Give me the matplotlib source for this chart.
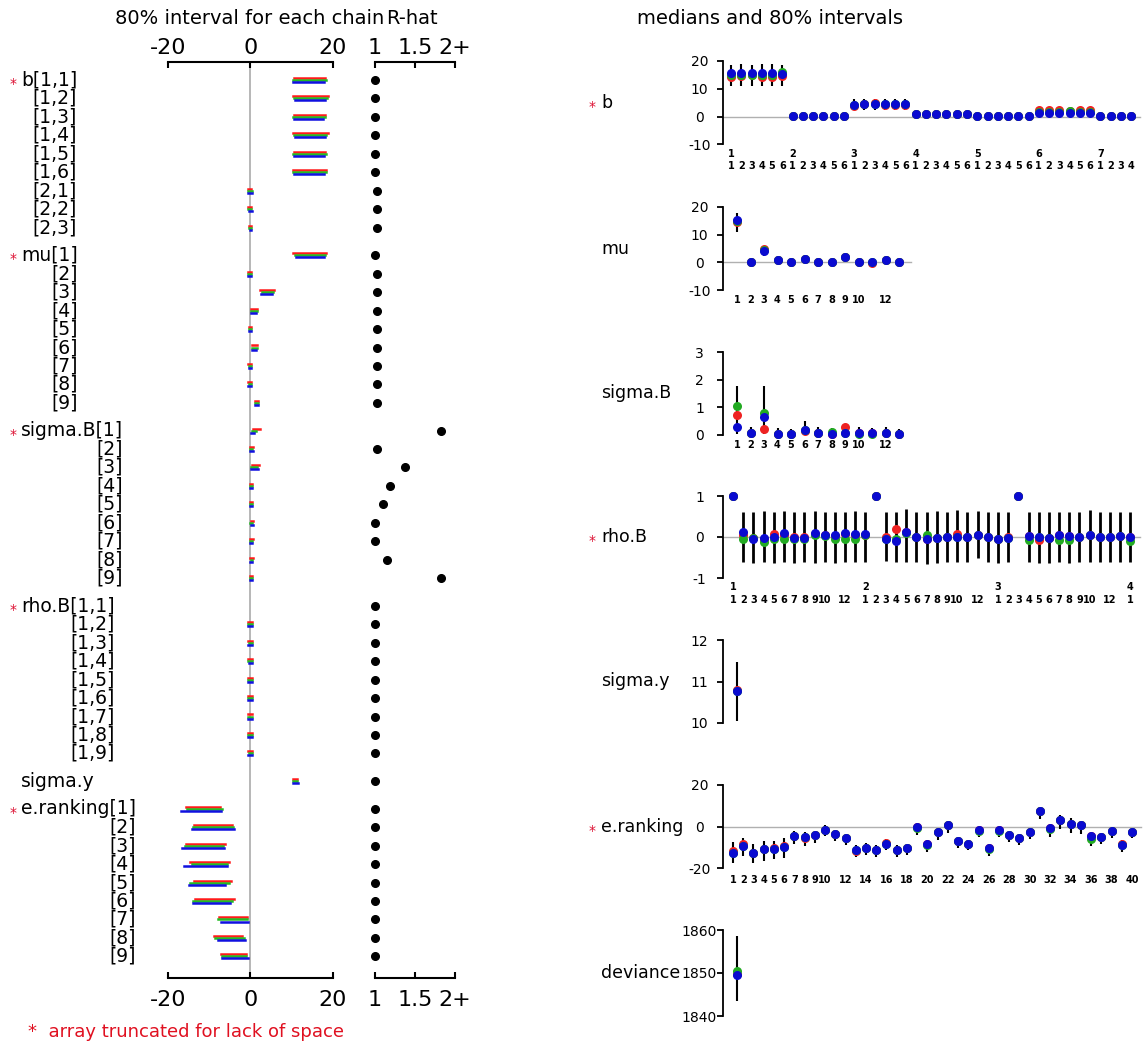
import matplotlib
matplotlib.use("Agg")
import matplotlib.pyplot as plt
import matplotlib.transforms as mtransforms

plt.rcParams['font.family'] = ['DejaVu Sans']
plt.rcParams['axes.unicode_minus'] = False

# ---------------- left side: 80% interval for each chain (red, green, blue)
b_rows = ['[1,1]', '[1,2]', '[1,3]', '[1,4]', '[1,5]', '[1,6]', '[2,1]', '[2,2]', '[2,3]']
b_iv = [
    [(10.6, 18.0), (10.4, 18.2), (10.3, 17.7)],
    [(10.2, 18.7), (10.6, 18.5), (10.9, 18.0)],
    [(10.5, 18.1), (10.3, 18.0), (10.6, 17.6)],
    [(10.2, 18.9), (10.6, 18.3), (10.8, 18.0)],
    [(10.6, 18.0), (10.3, 18.2), (10.5, 17.7)],
    [(10.4, 18.3), (10.2, 18.4), (10.6, 17.9)],
    [(-0.5, 0.2), (-0.6, 0.3), (-0.5, 0.3)],
    [(-0.5, 0.2), (-0.6, 0.2), (-0.4, 0.3)],
    [(-0.3, 0.1), (-0.3, 0.1), (-0.2, 0.1)],
]
b_rhat = [1.00, 1.00, 1.00, 1.00, 1.00, 1.00, 1.02, 1.02, 1.02]

mu_rows = ['[1]', '[2]', '[3]', '[4]', '[5]', '[6]', '[7]', '[8]', '[9]']
mu_iv = [
    [(10.2, 18.2), (10.7, 18.0), (11.0, 17.8)],
    [(-0.6, 0.2), (-0.5, 0.2), (-0.5, 0.1)],
    [(2.4, 5.6), (2.8, 5.4), (2.6, 5.2)],
    [(0.1, 1.6), (0.2, 1.5), (0.2, 1.4)],
    [(-0.4, 0.1), (-0.3, 0.1), (-0.3, 0.2)],
    [(0.3, 1.5), (0.4, 1.6), (0.3, 1.4)],
    [(-0.5, 0.1), (-0.4, 0.2), (-0.4, 0.1)],
    [(-0.5, 0.1), (-0.4, 0.1), (-0.5, 0.2)],
    [(1.2, 1.8), (1.1, 1.8), (1.2, 1.9)],
]
mu_rhat = [1.00, 1.02, 1.02, 1.02, 1.02, 1.02, 1.02, 1.02, 1.02]

sigmaB_rows = ['[1]', '[2]', '[3]', '[4]', '[5]', '[6]', '[7]', '[8]', '[9]']
sigmaB_iv = [
    [(0.6, 2.2), (0.3, 1.4), (0.1, 0.8)],
    [(0.0, 0.5), (0.0, 0.4), (0.0, 0.5)],
    [(0.4, 2.1), (0.2, 1.6), (0.2, 1.8)],
    [(0.0, 0.4), (0.0, 0.3), (0.0, 0.4)],
    [(0.0, 0.4), (0.0, 0.4), (0.0, 0.3)],
    [(0.1, 0.5), (0.0, 0.4), (0.1, 0.5)],
    [(0.0, 0.5), (0.0, 0.4), (0.0, 0.4)],
    [(0.0, 0.5), (0.1, 0.4), (0.0, 0.3)],
    [(0.0, 0.3), (0.0, 0.3), (0.0, 0.4)],
]
sigmaB_rhat = [1.82, 1.02, 1.37, 1.19, 1.10, 1.00, 1.00, 1.15, 1.82]

rho_rows = ['[1,1]', '[1,2]', '[1,3]', '[1,4]', '[1,5]', '[1,6]', '[1,7]', '[1,8]', '[1,9]']
rho_iv = [
    [(1.0, 1.0), (1.0, 1.0), (1.0, 1.0)],
    [(-0.5, 0.4), (-0.5, 0.3), (-0.6, 0.4)],
    [(-0.5, 0.3), (-0.4, 0.4), (-0.5, 0.3)],
    [(-0.5, 0.3), (-0.5, 0.3), (-0.4, 0.3)],
    [(-0.6, 0.4), (-0.5, 0.3), (-0.5, 0.4)],
    [(-0.6, 0.3), (-0.5, 0.4), (-0.5, 0.3)],
    [(-0.5, 0.4), (-0.5, 0.3), (-0.6, 0.4)],
    [(-0.5, 0.3), (-0.5, 0.4), (-0.5, 0.3)],
    [(-0.5, 0.3), (-0.4, 0.3), (-0.5, 0.4)],
]
rho_rhat = [1.00, 1.00, 1.00, 1.00, 1.00, 1.00, 1.00, 1.00, 1.00]

sigmay_rows = ['']
sigmay_iv = [[(10.2, 11.3), (10.2, 11.3), (10.3, 11.4)]]
sigmay_rhat = [1.00]

er_rows = ['[1]', '[2]', '[3]', '[4]', '[5]', '[6]', '[7]', '[8]', '[9]']
er_iv = [
    [(-15.7, -7.5), (-15.5, -7.0), (-16.9, -7.2)],
    [(-13.8, -4.5), (-14.0, -4.2), (-14.2, -4.0)],
    [(-15.6, -6.3), (-16.0, -6.6), (-16.5, -6.5)],
    [(-14.6, -5.2), (-14.3, -5.6), (-16.1, -5.8)],
    [(-13.8, -4.8), (-14.6, -5.3), (-14.9, -6.2)],
    [(-13.5, -3.9), (-14.0, -4.5), (-14.0, -4.9)],
    [(-7.6, -0.9), (-7.8, -0.9), (-7.2, -0.5)],
    [(-8.9, -2.0), (-8.6, -1.6), (-7.9, -1.4)],
    [(-7.2, -1.2), (-7.0, -1.0), (-6.8, -0.5)],
]
er_rhat = [1.00, 1.00, 1.00, 1.00, 1.00, 1.00, 1.00, 1.00, 1.00]

# ---------------- right side: medians per chain and 80% intervals
b_med_red = [14.3, 14.5, 14.8, 14.3, 14.3, 14.6, 0.3, 0.3, 0.3, 0.3, 0.3, 0.3,
             4.0, 4.5, 4.8, 4.3, 4.3, 4.3, 0.9, 0.9, 0.9, 0.9, 0.9, 0.9,
             0.2, 0.4, 0.4, 0.4, 0.4, 0.4, 2.4, 2.5, 2.5, 2.0, 2.4, 2.4, 0.3, 0.3, 0.3, 0.3]
b_med_green = [15.0, 15.0, 15.0, 15.0, 15.0, 15.9, 0.3, 0.3, 0.3, 0.3, 0.3, 0.3,
               4.3, 4.6, 4.4, 4.6, 4.6, 4.6, 0.9, 0.9, 0.9, 0.9, 0.9, 0.9,
               0.2, 0.4, 0.4, 0.4, 0.4, 0.4, 1.5, 1.6, 1.6, 2.0, 1.6, 1.8, 0.3, 0.3, 0.3, 0.3]
b_med_blue = [15.8, 15.8, 15.6, 15.8, 15.8, 15.2, 0.3, 0.3, 0.3, 0.3, 0.3, 0.3,
              4.3, 4.6, 4.4, 4.6, 4.6, 4.6, 0.9, 0.9, 0.9, 0.9, 0.9, 0.9,
              0.2, 0.4, 0.4, 0.4, 0.4, 0.4, 1.3, 1.4, 1.4, 1.4, 1.4, 1.4, 0.3, 0.3, 0.3, 0.3]
b_lo = [11.0, 11.0, 11.0, 11.0, 11.0, 11.0, -0.5, -0.5, -0.5, -0.5, -0.5, -0.5,
        2.3, 2.3, 2.3, 2.3, 2.3, 2.3, 0.2, 0.2, 0.2, 0.2, 0.2, 0.2,
        -0.4, -0.4, -0.4, -0.4, -0.4, -0.4, 0.5, 0.5, 0.5, 0.5, 0.5, 0.5, -0.4, -0.4, -0.4, -0.4]
b_hi = [18.6, 18.8, 18.6, 18.8, 18.8, 18.4, 0.9, 0.9, 0.9, 0.9, 0.9, 0.9,
        6.3, 6.3, 6.3, 6.3, 6.3, 6.3, 1.6, 1.6, 1.6, 1.6, 1.6, 1.6,
        1.0, 1.0, 1.0, 1.0, 1.0, 1.0, 2.6, 2.6, 2.6, 2.6, 2.6, 2.6, 0.9, 0.9, 0.9, 0.9]
b_xgroup = ['1', '', '', '', '', '', '2', '', '', '', '', '', '3', '', '', '', '', '',
            '4', '', '', '', '', '', '5', '', '', '', '', '', '6', '', '', '', '', '',
            '7', '', '', '']
b_xlab = ['1', '2', '3', '4', '5', '6', '1', '2', '3', '4', '5', '6', '1', '2', '3', '4', '5', '6',
          '1', '2', '3', '4', '5', '6', '1', '2', '3', '4', '5', '6', '1', '2', '3', '4', '5', '6',
          '1', '2', '3', '4']

mu_med_red = [14.6, 0.25, 4.8, 1.0, 0.3, 1.1, 0.3, 0.3, 1.8, 0.3, -0.4, 0.9, 0.3]
mu_med_green = [15.0, 0.25, 4.4, 1.0, 0.3, 1.1, 0.3, 0.3, 1.8, 0.3, 0.0, 0.9, 0.3]
mu_med_blue = [15.2, 0.25, 4.2, 1.0, 0.3, 1.1, 0.3, 0.3, 1.8, 0.3, 0.1, 0.9, 0.3]
mu_lo = [10.8, -0.5, 2.4, 0.2, -0.4, 0.3, -0.5, -0.5, 1.0, -0.5, -0.8, 0.1, -0.5]
mu_hi = [18.0, 1.0, 5.4, 1.8, 1.0, 1.9, 1.0, 1.0, 2.6, 1.0, 0.8, 1.7, 1.0]
mu_xlab = ['1', '2', '3', '4', '5', '6', '7', '8', '9', '10', '', '12', '']

sB_med_red = [0.72, 0.07, 0.2, 0.05, 0.03, 0.15, 0.08, 0.04, 0.3, 0.08, 0.08, 0.09, 0.04]
sB_med_green = [1.05, 0.07, 0.8, 0.05, 0.03, 0.18, 0.08, 0.1, 0.07, 0.05, 0.03, 0.09, 0.04]
sB_med_blue = [0.3, 0.07, 0.66, 0.05, 0.03, 0.18, 0.08, 0.04, 0.07, 0.08, 0.08, 0.09, 0.04]
sB_lo = [0.02, 0.0, 0.02, 0.0, 0.0, 0.02, 0.0, 0.0, 0.0, 0.0, 0.0, 0.0, 0.0]
sB_hi = [1.78, 0.3, 1.78, 0.25, 0.2, 0.5, 0.3, 0.25, 0.4, 0.3, 0.25, 0.3, 0.2]
sB_xlab = ['1', '2', '3', '4', '5', '6', '7', '8', '9', '10', '', '12', '']

rho_med_red = [1.0, 0.05, -0.02, -0.05, 0.08, 0.05, 0.0, 0.0, 0.08, 0.05, 0.03, 0.08, 0.05,
               0.05, 1.0, 0.0, 0.2, 0.12, 0.0, -0.05, -0.03, 0.0, 0.08, 0.0, 0.05, 0.0,
               -0.05, 0.0, 1.0, 0.02, -0.08, -0.03, 0.05, 0.03, 0.0, 0.05, 0.0, 0.0, 0.02,
               0.0]
rho_med_green = [1.0, -0.05, -0.02, -0.12, -0.05, -0.04, -0.05, -0.05, 0.05, 0.02, -0.05, -0.05, -0.05,
                 0.05, 1.0, -0.05, -0.05, 0.1, 0.0, 0.05, -0.03, 0.0, 0.0, 0.0, 0.05, 0.0,
                 -0.05, -0.03, 1.0, -0.08, 0.0, -0.03, -0.08, -0.08, 0.0, 0.05, 0.0, 0.0, 0.02,
                 -0.1]
rho_med_blue = [1.0, 0.12, -0.04, -0.02, 0.0, 0.1, -0.02, -0.02, 0.1, 0.05, 0.05, 0.1, 0.08,
                0.08, 1.0, -0.05, -0.1, 0.12, 0.0, -0.05, -0.03, 0.0, 0.0, 0.0, 0.05, 0.0,
                -0.05, -0.03, 1.0, 0.02, 0.0, -0.03, 0.05, 0.03, 0.0, 0.05, 0.0, 0.0, 0.02,
                0.0]
rho_lo = [1.0, -0.62, -0.64, -0.62, -0.63, -0.6, -0.63, -0.62, -0.64, -0.62, -0.63, -0.6, -0.62,
          -0.62, 1.0, -0.58, -0.62, -0.6, -0.62, -0.66, -0.64, -0.62, -0.6, -0.62, -0.5, -0.62,
          -0.64, -0.62, 1.0, -0.62, -0.64, -0.64, -0.62, -0.64, -0.62, -0.6, -0.62, -0.62, -0.62,
          -0.62]
rho_hi = [1.0, 0.62, 0.62, 0.63, 0.62, 0.64, 0.62, 0.62, 0.63, 0.62, 0.62, 0.62, 0.63,
          0.62, 1.0, 0.62, 0.62, 0.68, 0.62, 0.62, 0.64, 0.62, 0.66, 0.62, 0.63, 0.62,
          0.62, 0.62, 1.0, 0.62, 0.62, 0.62, 0.62, 0.62, 0.62, 0.66, 0.62, 0.62, 0.62,
          0.62]
rho_xgroup = ['1', '', '', '', '', '', '', '', '', '', '', '', '',
              '2', '', '', '', '', '', '', '', '', '', '', '', '',
              '3', '', '', '', '', '', '', '', '', '', '', '', '',
              '4']
rho_xlab = ['1', '2', '3', '4', '5', '6', '7', '8', '9', '10', '', '12', '',
            '1', '2', '3', '4', '5', '6', '7', '8', '9', '10', '', '12', '',
            '1', '2', '3', '4', '5', '6', '7', '8', '9', '10', '', '12', '',
            '1']

sy_med_red = [10.8]
sy_med_green = [10.78]
sy_med_blue = [10.78]
sy_lo = [10.05]
sy_hi = [11.46]

er_med_red = [-12.0, -8.5, -12.8, -11.0, -10.5, -9.5, -4.6, -5.5, -4.3, -1.6,
              -3.5, -5.6, -12.0, -10.4, -11.5, -8.0, -11.2, -10.4, -0.3, -8.3,
              -2.7, 0.8, -7.2, -8.3, -1.9, -10.4, -1.9, -4.3, -5.6, -2.7,
              7.7, -0.8, 3.2, 1.0, 0.5, -4.6, -5.1, -2.0, -8.5, -2.7]
er_med_green = [-12.6, -9.4, -12.8, -11.0, -11.0, -9.9, -4.6, -5.1, -4.3, -1.6,
                -3.5, -5.6, -11.5, -10.4, -11.5, -8.3, -11.2, -10.4, -0.6, -8.8,
                -2.7, 0.8, -7.2, -8.3, -2.2, -10.9, -2.2, -4.3, -5.6, -2.7,
                7.7, -1.3, 3.2, 1.3, 0.5, -6.0, -5.1, -2.4, -8.8, -2.7]
er_med_blue = [-12.6, -9.4, -12.8, -11.0, -11.0, -9.9, -4.6, -5.1, -4.3, -1.6,
               -3.5, -5.6, -11.5, -10.4, -11.5, -8.3, -11.2, -10.4, -0.3, -8.3,
               -2.7, 0.8, -7.2, -8.3, -1.9, -10.4, -1.9, -4.3, -5.6, -2.7,
               7.7, -0.8, 3.2, 1.3, 0.5, -4.6, -5.1, -2.4, -8.8, -2.7]
er_lo = [-17.5, -14.0, -17.5, -16.5, -15.5, -15.0, -8.5, -9.5, -8.0, -4.5,
         -7.0, -9.0, -14.5, -13.5, -14.5, -11.5, -14.5, -13.5, -4.0, -12.5,
         -6.5, -3.0, -10.5, -11.5, -5.0, -14.0, -5.0, -7.5, -9.0, -6.0,
         3.5, -5.0, -1.0, -3.0, -3.5, -9.5, -8.5, -5.5, -12.5, -5.5]
er_hi = [-7.5, -5.5, -8.5, -7.0, -7.0, -5.5, -2.0, -2.5, -2.0, 0.5,
         -1.5, -3.5, -9.0, -8.0, -9.0, -6.0, -9.0, -8.5, 1.5, -6.5,
         -1.0, 2.5, -5.5, -6.5, 0.0, -8.5, 0.0, -2.5, -3.5, -1.0,
         9.5, 1.0, 5.5, 4.0, 2.5, -2.5, -3.0, -0.5, -6.5, -0.5]
er_xlab = ['1', '2', '3', '4', '5', '6', '7', '8', '9', '10', '', '12', '', '14', '', '16', '', '18', '', '20',
           '', '22', '', '24', '', '26', '', '28', '', '30', '', '32', '', '34', '', '36', '', '38', '', '40']

dev_med_red = [1849.8]
dev_med_green = [1850.4]
dev_med_blue = [1849.6]
dev_lo = [1843.4]
dev_hi = [1858.6]

RED = '#dd1133'
chain_colors = ['#ff1a1a', '#22bb22', '#1010e0']

# ---------------- figure
W, H = 1144, 1048
fig = plt.figure(figsize=(W / 100, H / 100), dpi=100)


def box(x0, y0, x1, y1):
    # pixel box (origin top-left) -> figure fraction
    return [x0 / W, 1 - y1 / H, (x1 - x0) / W, (y1 - y0) / H]


row_px = 18.45
first_row_px = 80
ax_iv = fig.add_axes(box(168, 62, 333, 978))
ax_rh = fig.add_axes(box(375, 62, 455, 978))
for ax in (ax_iv, ax_rh):
    ax.set_ylim((978 - first_row_px) / row_px, (62 - first_row_px) / row_px)
    ax.patch.set_visible(False)
    for s in ('left', 'right', 'top'):
        ax.spines[s].set_visible(False)
    ax.spines['bottom'].set_linewidth(1.5)
    ax.tick_params(axis='y', left=False, labelleft=False)
    ax.tick_params(axis='x', direction='in', length=4, width=1.5, labelsize=16, pad=9)
ax_iv.set_xlim(-20, 20)
ax_rh.set_xlim(1, 2)
ax_iv.set_xticks([-20, 0, 20])
ax_rh.set_xticks([1, 1.5, 2], ['1', '1.5', '2+'])
for ax, tk, tl in ((ax_iv, [-20, 0, 20], ['-20', '0', '20']), (ax_rh, [1, 1.5, 2], ['1', '1.5', '2+'])):
    top = ax.secondary_xaxis('top')
    top.set_xticks(tk, tl)
    top.tick_params(direction='in', length=4, width=1.5, labelsize=16, pad=3)
    top.spines['top'].set_linewidth(1.5)
ax_iv.axvline(0, color='#aaaaaa', lw=1.2, zorder=0)

left_groups = [
    ('b', b_rows, b_iv, b_rhat, True),
    ('mu', mu_rows, mu_iv, mu_rhat, True),
    ('sigma.B', sigmaB_rows, sigmaB_iv, sigmaB_rhat, True),
    ('rho.B', rho_rows, rho_iv, rho_rhat, True),
    ('sigma.y', sigmay_rows, sigmay_iv, sigmay_rhat, False),
    ('e.ranking', er_rows, er_iv, er_rhat, True),
]

trans = mtransforms.blended_transform_factory(fig.transFigure, ax_iv.transData)
star_trans = mtransforms.offset_copy(trans, fig=fig, y=-4, units='dots')
renderer = fig.canvas.get_renderer()
offsets = [-0.11, 0.0, 0.11]
k = 0
for g, (name, rows, ivs, rhat, star) in enumerate(left_groups):
    right_edge = None
    for j, (lab, iv) in enumerate(zip(rows, ivs)):
        pos = k + g * 0.5
        for c, (lo, hi) in enumerate(iv):
            ax_iv.plot([lo, hi], [pos + offsets[c]] * 2, color=chain_colors[c], lw=1.8,
                       solid_capstyle='projecting', clip_on=False)
        ax_rh.plot([rhat[j]], [pos], 'o', color='black', ms=5.5, clip_on=False)
        if j == 0:
            t = fig.text(21 / W, pos, name + lab, transform=trans, ha='left', va='center', fontsize=13.5)
            right_edge = t.get_window_extent(renderer).x1 / W
            if star:
                fig.text(13 / W, pos, '*', transform=star_trans, ha='center', va='center',
                         fontsize=10, color=RED)
        else:
            fig.text(right_edge, pos, lab, transform=trans, ha='right', va='center', fontsize=13.5)
        k += 1

fig.text(250 / W, 1 - 19 / H, '80% interval for each chain', ha='center', va='center', fontsize=14)
fig.text(412 / W, 1 - 19 / H, 'R-hat', ha='center', va='center', fontsize=14)
fig.text(28 / W, 1 - 1032 / H, '*  array truncated for lack of space', ha='left', va='center',
         fontsize=13, color='#e01020')

# ---------------- right side panels
fig.text(770 / W, 1 - 18 / H, 'medians and 80% intervals', ha='center', va='center', fontsize=14)


def panel(name, star, top_px, bot_px, ticks, first_px, step, meds, lo, hi,
          xlab=None, xgroup=None, lab_off=10, grp_off=9, lw=1.5):
    ax = fig.add_axes(box(723, top_px, 1141, bot_px))
    ax.patch.set_visible(False)
    n = len(lo)
    x = list(range(1, n + 1))
    x0 = 1 - (first_px - 723) / step
    ax.set_xlim(x0, 1 + (1141 - first_px) / step)
    ax.set_ylim(ticks[0], ticks[-1])
    if ticks[0] < 0 < ticks[-1]:
        ax.plot([x0, n + 0.9], [0, 0], color='#b0b0b0', lw=1, zorder=1, clip_on=False)
    ax.vlines(x, lo, hi, color='black', lw=lw, zorder=2, clip_on=False)
    for col, med in zip(['#ee2222', '#22aa22', '#0a0ad0'], meds):
        ax.plot(x, med, 'o', color=col, ms=6.5, mec='none', zorder=3, clip_on=False)
    for s in ('right', 'top', 'bottom'):
        ax.spines[s].set_visible(False)
    ax.spines['left'].set_linewidth(1.3)
    ax.set_xticks([])
    ax.set_yticks(ticks)
    ax.tick_params(axis='y', direction='out', length=4, width=1.3, labelsize=10, pad=13)
    for t in ax.get_yticklabels():
        t.set_horizontalalignment('center')
    if xlab is not None:
        for i, lab in enumerate(xlab):
            ax.annotate(lab, xy=(i + 1, ticks[0]), xytext=(0, -lab_off), textcoords='offset pixels',
                        ha='center', va='center', fontsize=7, fontweight='bold', annotation_clip=False)
    if xgroup is not None:
        for i, lab in enumerate(xgroup):
            if lab:
                ax.annotate(lab, xy=(i + 1, ticks[0]), xytext=(0, -grp_off), textcoords='offset pixels',
                            ha='center', va='center', fontsize=7, fontweight='bold', annotation_clip=False)
    yc = 1 - (top_px + bot_px) / 2 / H
    fig.text(601 / W, yc, name, ha='left', va='center', fontsize=12.5)
    if star:
        fig.text(592 / W, yc - 4 / H, '*', ha='center', va='center', fontsize=10, color=RED)
    return ax


panel('b', True, 61, 144.5, [-10, 0, 10, 20], 731, 10.26,
      [b_med_red, b_med_green, b_med_blue], b_lo, b_hi,
      xlab=b_xlab, xgroup=b_xgroup, lab_off=21.5, grp_off=9.5)
panel('mu', False, 207, 290, [-10, 0, 10, 20], 737, 13.5,
      [mu_med_red, mu_med_green, mu_med_blue], mu_lo, mu_hi, xlab=mu_xlab, lab_off=10)
panel('sigma.B', False, 352, 435, [0, 1, 2, 3], 737, 13.5,
      [sB_med_red, sB_med_green, sB_med_blue], sB_lo, sB_hi, xlab=sB_xlab, lab_off=10)
panel('rho.B', True, 496, 578, [-1, 0, 1], 733, 10.19,
      [rho_med_red, rho_med_green, rho_med_blue], rho_lo, rho_hi,
      xlab=rho_xlab, xgroup=rho_xgroup, lab_off=22, grp_off=9, lw=2.0)
panel('sigma.y', False, 640, 723, [10, 11, 12], 737, 13.5,
      [sy_med_red, sy_med_green, sy_med_blue], sy_lo, sy_hi)
panel('e.ranking', True, 785, 868, [-20, 0, 20], 733, 10.23,
      [er_med_red, er_med_green, er_med_blue], er_lo, er_hi, xlab=er_xlab, lab_off=12)
panel('deviance', False, 930, 1016, [1840, 1850, 1860], 737, 13.5,
      [dev_med_red, dev_med_green, dev_med_blue], dev_lo, dev_hi)

fig.savefig('out.png', dpi=100, facecolor='white')
